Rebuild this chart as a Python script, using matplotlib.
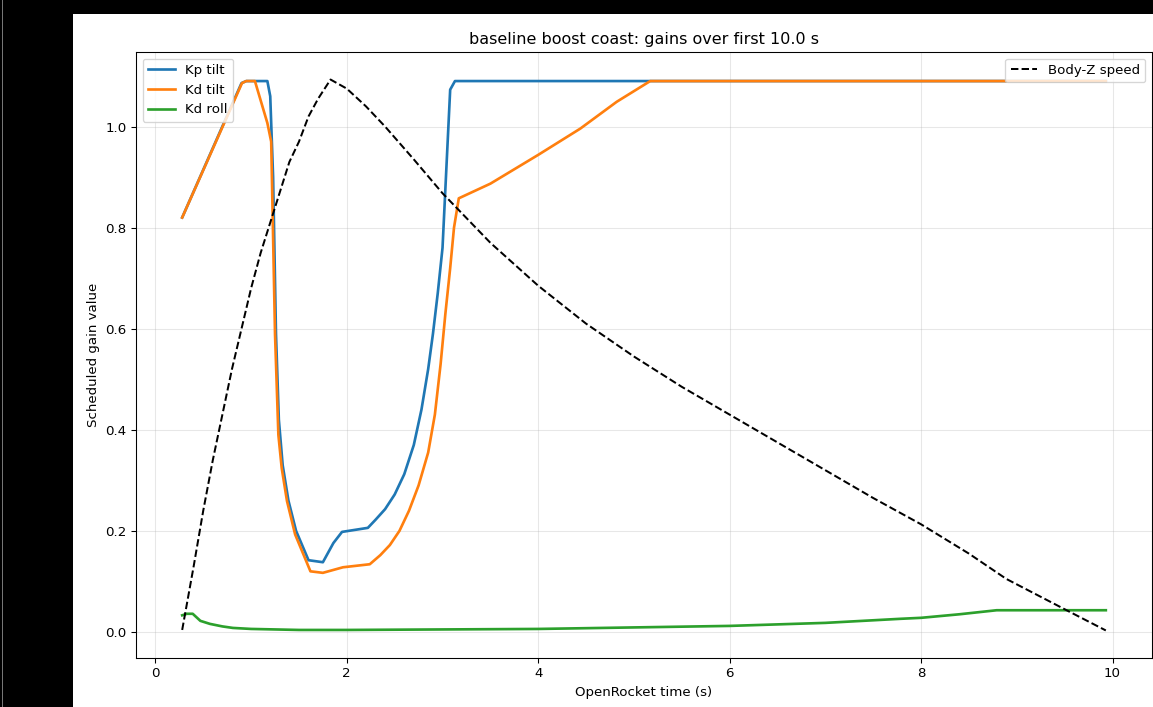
# -*- coding: utf-8 -*-
import matplotlib.pyplot as plt
from matplotlib.patches import Rectangle

# データ------------------------------------------------------------
kp_time = [0.28, 0.90, 0.95, 1.17, 1.20, 1.23, 1.26, 1.29, 1.33, 1.39, 1.47,
           1.60, 1.75, 1.86, 1.95, 2.22, 2.30, 2.40, 2.50, 2.60, 2.70, 2.78,
           2.85, 2.90, 2.95, 3.00, 3.08, 3.13, 9.93]
kp_tilt = [0.82, 1.086, 1.09, 1.09, 1.06, 0.90, 0.59, 0.42, 0.33, 0.26, 0.20,
           0.142, 0.138, 0.176, 0.198, 0.206, 0.222, 0.243, 0.272, 0.312, 0.37, 0.44,
           0.52, 0.59, 0.67, 0.76, 1.073, 1.09, 1.09]

kd_time = [0.28, 0.905, 0.95, 1.04, 1.17, 1.21, 1.25, 1.285, 1.32, 1.375, 1.46,
           1.62, 1.75, 1.96, 2.24, 2.35, 2.45, 2.55, 2.65, 2.75, 2.85, 2.92,
           2.98, 3.03, 3.08, 3.12, 3.17, 3.50, 4.00, 4.44, 4.82, 5.17, 9.93]
kd_tilt = [0.82, 1.086, 1.09, 1.09, 1.007, 0.97, 0.589, 0.39, 0.324, 0.259, 0.193,
           0.12, 0.117, 0.128, 0.134, 0.152, 0.172, 0.20, 0.24, 0.29, 0.355, 0.43,
           0.53, 0.63, 0.72, 0.80, 0.858, 0.887, 0.944, 0.996, 1.049, 1.09, 1.09]

roll_time = [0.28, 0.33, 0.39, 0.47, 0.57, 0.70, 0.81, 1.0, 1.5, 2.0, 3.0, 4.0,
             5.0, 6.0, 7.0, 7.78, 8.0, 8.4, 8.79, 9.93]
kd_roll = [0.033, 0.036, 0.036, 0.022, 0.016, 0.011, 0.008, 0.006, 0.004, 0.004, 0.005, 0.006,
           0.009, 0.012, 0.018, 0.026, 0.028, 0.035, 0.043, 0.043]

speed_time = [0.28, 0.4, 0.5, 0.6, 0.7, 0.8, 0.9, 1.0, 1.1, 1.2, 1.3, 1.4, 1.5,
              1.6, 1.7, 1.83, 2.0, 2.2, 2.4, 2.7, 3.0, 3.5, 4.0, 4.5, 5.0,
              5.5, 6.0, 6.5, 7.0, 7.5, 8.0, 8.5, 8.89, 9.52, 9.93]
body_z_speed = [0.004, 0.13, 0.24, 0.34, 0.43, 0.52, 0.60, 0.68, 0.75, 0.81, 0.87, 0.93, 0.97,
                1.02, 1.055, 1.093, 1.075, 1.04, 1.0, 0.935, 0.868, 0.77, 0.685, 0.61, 0.545,
                0.485, 0.43, 0.375, 0.32, 0.265, 0.213, 0.155, 0.105, 0.043, 0.003]
# -----------------------------------------------------------------------------

W, H = 1153, 707
DPI = 96


def main():
    fig = plt.figure(figsize=(W / DPI, H / DPI), dpi=DPI, facecolor='black')

    # 白い描画領域（左と上は黒い余白）
    fig.patches.append(Rectangle((73 / W, 0), 1 - 73 / W, 693 / H,
                                 transform=fig.transFigure, facecolor='white',
                                 edgecolor='none', zorder=-2))
    fig.patches.append(Rectangle((2 / W, 0), 1 / W, 1,
                                 transform=fig.transFigure, facecolor='#777777',
                                 edgecolor='none', zorder=-2))

    ax = fig.add_axes([136 / W, 49 / H, 1016 / W, 606 / H])

    l1, = ax.plot(kp_time, kp_tilt, color='tab:blue', lw=2, label='Kp tilt')
    l2, = ax.plot(kd_time, kd_tilt, color='tab:orange', lw=2, label='Kd tilt')
    l3, = ax.plot(roll_time, kd_roll, color='tab:green', lw=2, label='Kd roll')
    l4, = ax.plot(speed_time, body_z_speed, color='black', ls='--', lw=1.5,
                  label='Body-Z speed')

    ax.set_xlabel('OpenRocket time (s)')
    ax.set_ylabel('Scheduled gain value')
    ax.set_title('baseline boost coast: gains over first 10.0 s')
    ax.grid(True, alpha=0.3)

    # 凡例
    leg1 = ax.legend(handles=[l1, l2, l3], loc='upper left')
    ax.add_artist(leg1)
    ax.legend(handles=[l4], loc='upper right')

    fig.savefig('out.png', dpi=DPI, facecolor=fig.get_facecolor())
    return


if __name__ == "__main__":
    main()
